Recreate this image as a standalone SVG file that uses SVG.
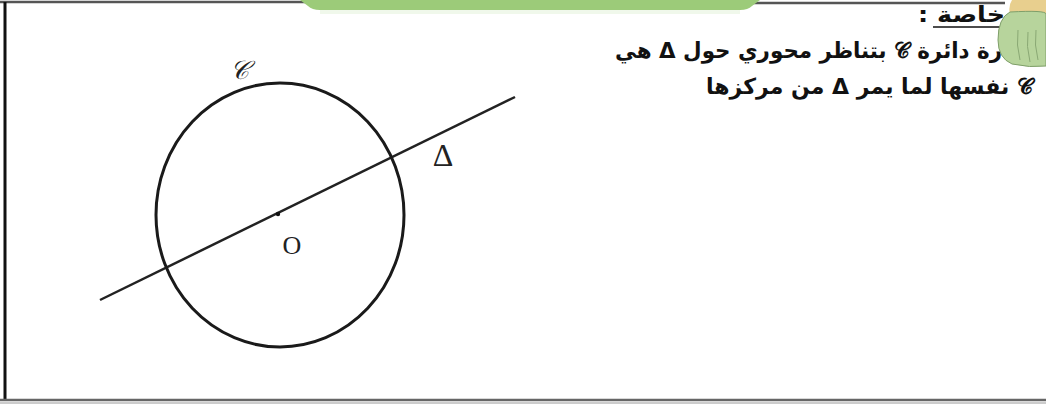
<svg xmlns="http://www.w3.org/2000/svg" width="1046" height="407" viewBox="0 0 1046 407">
<defs>
<style>
.ar{font-family:"DejaVu Sans","Noto Sans",sans-serif;font-weight:bold;fill:#111;}
.lbl{font-family:"Liberation Serif","DejaVu Serif",serif;fill:#222;}
.frame{stroke:#555;fill:none;}
</style>
</defs>
<rect width="1046" height="407" fill="#ffffff"/>
<g id="frame">
<line x1="0" y1="2" x2="310" y2="2" class="frame" stroke-width="2.5"/>
<line x1="750" y1="3" x2="1005" y2="3" class="frame" stroke-width="2.5"/>
<line x1="5" y1="2" x2="5" y2="401" stroke="#111" stroke-width="3"/>
<line x1="0" y1="400" x2="1046" y2="400" stroke="#666" stroke-width="2.5"/>
<line x1="0" y1="403" x2="1046" y2="403" stroke="#ccc" stroke-width="2"/>
</g>
<g id="green-band">
<path d="M300,0 H760 L752,6 Q748,10 740,10 H320 Q312,10 308,6 Z" fill="#9ccb79"/>
<rect x="320" y="10" width="420" height="4" fill="#e6f3de" opacity="0.6"/>
</g>
<g id="connectors">
<line x1="100" y1="300" x2="515" y2="97" stroke="#222" stroke-width="2.5"/>
</g>
<g id="circle-C">
<ellipse cx="280" cy="215" rx="124" ry="132" fill="none" stroke="#1a1a1a" stroke-width="3"/>
<text x="239" y="79" class="lbl" font-size="26" font-style="italic" text-anchor="middle" fill="#555">𝒞</text>
</g>
<g id="center-O">
<circle cx="278" cy="214" r="2.2" fill="#111"/>
<text x="292" y="254" class="lbl" font-size="26" text-anchor="middle">O</text>
</g>
<g id="axis-label">
<text x="443" y="166" class="lbl" font-size="32" text-anchor="middle">Δ</text>
</g>
<g id="property-text">
<text x="1005" y="22" class="ar" font-size="22" direction="rtl" text-anchor="start" textLength="87" lengthAdjust="spacingAndGlyphs">خاصة :</text>
<line x1="933" y1="27" x2="1004" y2="27" stroke="#111" stroke-width="1.5"/>
<text x="1002" y="58" class="ar" font-size="22" direction="rtl" text-anchor="start" textLength="387" lengthAdjust="spacingAndGlyphs">رة دائرة 𝒞 بتناظر محوري حول  Δ هي</text>
<text x="1033" y="94" class="ar" font-size="22" direction="rtl" text-anchor="start" textLength="327" lengthAdjust="spacingAndGlyphs">𝒞 نفسها لما يمر Δ من مركزها</text>
</g>
<g id="corner-decoration">
<path d="M1012,0 H1046 V14 H1010 Q1008,6 1012,0 Z" fill="#e8cf8e"/>
<path d="M1010,12 Q1046,10 1046,14 V66 Q1030,68 1012,64 Q998,58 998,40 Q998,18 1010,12 Z" fill="#b7d49c" stroke="#7f9f6a" stroke-width="1"/>
<path d="M1018,30 Q1016,45 1020,60 M1028,32 Q1026,46 1030,62 M1036,30 Q1034,45 1038,60" stroke="#8aa874" stroke-width="1" fill="none"/>
</g>
</svg>
